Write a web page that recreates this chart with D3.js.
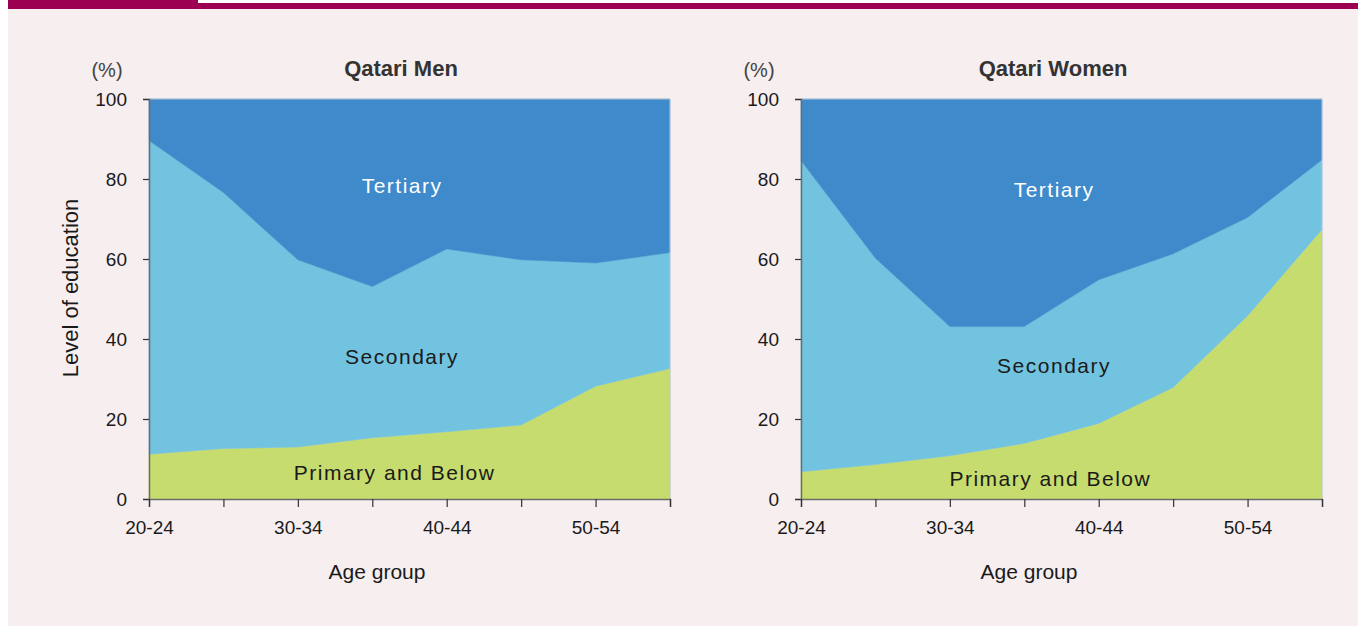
<!DOCTYPE html>
<html>
<head>
<meta charset="utf-8">
<script src="https://cdn.jsdelivr.net/npm/d3@7"></script>
<style>
  html, body { margin: 0; padding: 0; background: #ffffff; }
  svg { display: block; }
</style>
</head>
<body>
<svg id="chart" width="1358" height="626"></svg>
<script>
// ---- Data (percent of each age group) ----
const ageGroups = ["20-24", "25-29", "30-34", "35-39", "40-44", "45-49", "50-54", "55-59"];
const xTickLabels = ["20-24", "30-34", "40-44", "50-54"];
const yTicks = [0, 20, 40, 60, 80, 100];
const levelNames = ["Primary and Below", "Secondary", "Tertiary"];

const menPrimary   = [11.2, 12.6, 13.0, 15.3, 16.8, 18.5, 28.2, 32.6];
const menSecondary = [78.4, 64.0, 46.8, 37.8, 45.7, 41.3, 30.8, 29.0];
const menTertiary  = [10.4, 23.4, 40.2, 46.9, 37.5, 40.2, 41.0, 38.4];

const womenPrimary   = [6.8, 8.6, 10.8, 13.9, 18.9, 27.9, 45.8, 67.4];
const womenSecondary = [77.8, 51.6, 32.3, 29.2, 35.9, 33.4, 24.6, 17.4];
const womenTertiary  = [15.4, 39.8, 56.9, 56.9, 45.2, 38.7, 29.6, 15.2];

const panelTitles = ["Qatari Men", "Qatari Women"];

// ---- Styling ----
const colors = { "Primary and Below": "#c7dc6e", "Secondary": "#72c3e0", "Tertiary": "#3f8acb" };
const labelColors = { "Primary and Below": "#1a1a1a", "Secondary": "#1a1a1a", "Tertiary": "#ffffff" };
const tickFont = "'Liberation Sans', Arial, sans-serif";
const textFont = "'Liberation Sans', Arial, sans-serif";

const svg = d3.select("#chart");

// background and top band
svg.append("rect").attr("x", 8).attr("y", 0).attr("width", 1350).attr("height", 626).attr("fill", "#f6eeef");
svg.append("rect").attr("x", 8).attr("y", 0).attr("width", 190).attr("height", 9).attr("fill", "#9c0050");
svg.append("rect").attr("x", 198).attr("y", 0).attr("width", 1160).attr("height", 3).attr("fill", "#ffffff");
svg.append("rect").attr("x", 198).attr("y", 3).attr("width", 1160).attr("height", 6).attr("fill", "#9c0050");

function rows(prim, sec, ter) {
  return ageGroups.map((g, i) => ({
    age: g,
    "Primary and Below": prim[i],
    "Secondary": sec[i],
    "Tertiary": ter[i]
  }));
}

const panels = [
  { left: 149, title: panelTitles[0], data: rows(menPrimary, menSecondary, menTertiary),
    labelPos: { "Tertiary": [3.4, 76.5], "Secondary": [3.4, 33.8], "Primary and Below": [3.3, 4.7] } },
  { left: 801, title: panelTitles[1], data: rows(womenPrimary, womenSecondary, womenTertiary),
    labelPos: { "Tertiary": [3.4, 75.5], "Secondary": [3.4, 31.5], "Primary and Below": [3.35, 3.2] } }
];

const plotW = 521, plotTop = 99, plotBottom = 499;

panels.forEach(p => {
  const g = svg.append("g");
  const x = d3.scalePoint().domain(ageGroups).range([p.left, p.left + plotW]);
  const y = d3.scaleLinear().domain([0, 100]).range([plotBottom, plotTop]);
  const xi = d3.scaleLinear().domain([0, ageGroups.length - 1]).range([p.left, p.left + plotW]);

  const stack = d3.stack().keys(levelNames);
  const series = stack(p.data);
  const area = d3.area()
    .x(d => x(d.data.age))
    .y0(d => y(d[0]))
    .y1(d => y(d[1]));

  g.selectAll("path.layer").data(series).join("path")
    .attr("class", "layer")
    .attr("d", area)
    .attr("fill", d => colors[d.key])
    .attr("stroke", d => colors[d.key])
    .attr("stroke-width", 0.5);

  // light frame top & right
  g.append("path")
    .attr("d", `M${p.left},${plotTop}H${p.left + plotW}V${plotBottom}`)
    .attr("fill", "none").attr("stroke", "#b9c6d6").attr("stroke-width", 1);

  // area labels
  levelNames.forEach(k => {
    const [xi0, yv] = p.labelPos[k];
    g.append("text")
      .attr("x", xi(xi0)).attr("y", y(yv))
      .attr("text-anchor", "middle")
      .attr("font-family", textFont)
      .attr("font-size", 21)
      .attr("letter-spacing", "1.5px")
      .attr("fill", labelColors[k])
      .text(k);
  });

  // y axis
  const yAxis = d3.axisLeft(y).tickValues(yTicks).tickSize(6).tickPadding(16);
  const ya = g.append("g").attr("transform", `translate(${p.left},0)`).call(yAxis);
  ya.select(".domain").attr("stroke", "#6b6b6b").attr("stroke-width", 1.5);
  ya.selectAll(".tick line").attr("stroke", "#333").attr("stroke-width", 1.2);
  ya.selectAll(".tick text").attr("font-family", tickFont).attr("font-size", 19).attr("fill", "#1a1a1a");

  // x axis
  const xAxis = d3.axisBottom(x).tickSize(8).tickPadding(14)
    .tickFormat(d => xTickLabels.includes(d) ? d : "");
  const xa = g.append("g").attr("transform", `translate(0,${plotBottom})`).call(xAxis);
  xa.select(".domain").attr("stroke", "#6b6b6b").attr("stroke-width", 1.5);
  xa.selectAll(".tick line").attr("stroke", "#333").attr("stroke-width", 1.2);
  xa.selectAll(".tick text").attr("font-family", tickFont).attr("font-size", 19).attr("fill", "#1a1a1a");

  // title
  g.append("text").attr("x", p.left + 252).attr("y", 76)
    .attr("text-anchor", "middle").attr("font-family", textFont).attr("font-weight", "bold")
    .attr("font-size", 22).attr("fill", "#333").text(p.title);

  // (%)
  g.append("text").attr("x", p.left - 42).attr("y", 77)
    .attr("text-anchor", "middle").attr("font-family", tickFont)
    .attr("font-size", 20).attr("fill", "#444").text("(%)");

  // x axis title
  g.append("text").attr("x", p.left + 228).attr("y", 579)
    .attr("text-anchor", "middle").attr("font-family", tickFont)
    .attr("font-size", 21).attr("fill", "#1a1a1a").text("Age group");
});

// y axis title (left panel only)
svg.append("text")
  .attr("transform", "translate(78,288) rotate(-90)")
  .attr("text-anchor", "middle").attr("font-family", textFont)
  .attr("font-size", 22).attr("fill", "#1a1a1a").text("Level of education");
</script>
</body>
</html>
